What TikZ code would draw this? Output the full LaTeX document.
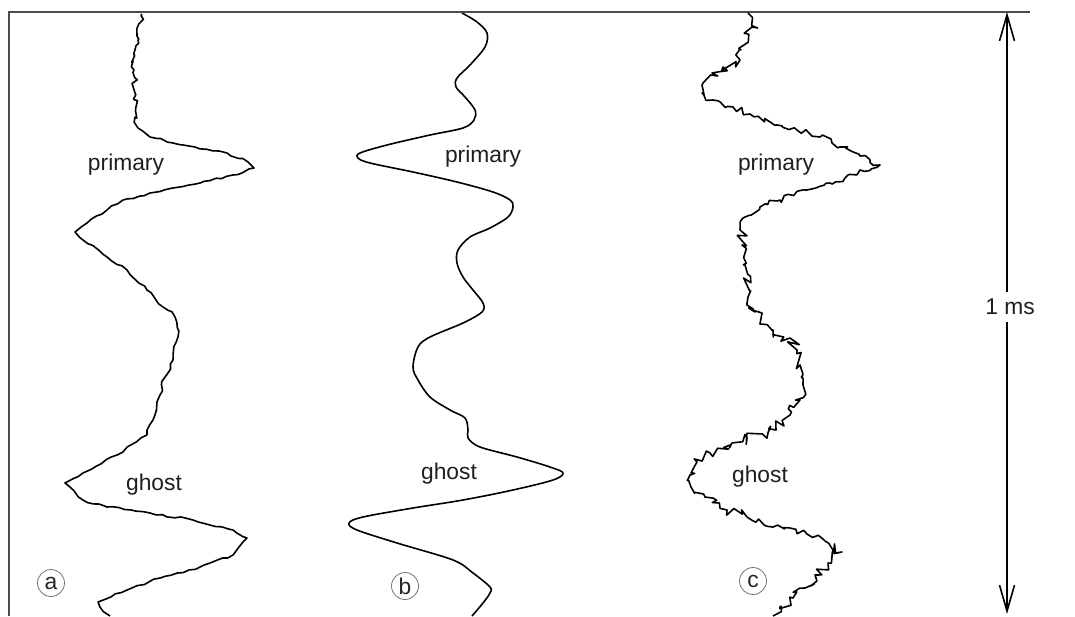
\documentclass[tikz,border=0pt]{standalone}
\usepackage{fontspec}
\setmainfont{Liberation Sans}
\usetikzlibrary{arrows.meta,decorations.pathmorphing}
\begin{document}
\begin{tikzpicture}[x=0.5pt,y=-0.5pt,
  trace/.style={line width=0.8pt, line join=round, black},
  noisy/.style n args={2}{decorate, decoration={random steps, segment length=#1, amplitude=#2}},
  lbl/.style={font=\fontsize{11.4}{13}\selectfont, text=black!88, inner sep=0pt},
  tag/.style={circle, draw=black!55, line width=0.4pt, minimum size=13.5pt, inner sep=0pt, font=\fontsize{11.4}{13}\selectfont, text=black!85},
  frame/.style={draw=black!70, line width=0.6pt},
  scalebar/.style={line width=0.8pt, black, -{Straight Barb[length=13pt,width=7.5pt]}}]
\useasboundingbox (0,0) rectangle (1075,616);
\pgfmathsetseed{4321}
% frame
\draw[frame] (9,616) -- (9,12) -- (1030,12);

% trace (a)
\draw[trace, noisy={2pt}{1.7pt}] (142,14) -- (138,40) -- (134,70) -- (135,100) -- (138,128);
\draw[trace, noisy={3pt}{0.6pt}] (138,128) -- (150,137) -- (183,145) -- (227,153) -- (248,162) -- (254,168) -- (233,175) -- (200,183) -- (150,193) -- (123,200) -- (107,210) -- (87,223) -- (75,232) -- (83,240) -- (107,257) -- (127,270) -- (147,290) -- (163,307);
\draw[trace, noisy={2.5pt}{1.1pt}] (163,307) -- (175,317) -- (178,337) -- (173,360) -- (165,377) -- (160,395) -- (153,420) -- (147,435);
\draw[trace, noisy={3pt}{0.6pt}] (147,435) -- (117,455) -- (83,473) -- (65,483) -- (83,500) -- (107,507) -- (150,513) -- (193,520) -- (233,530) -- (247,538) -- (233,555) -- (200,567) -- (160,578) -- (127,590) -- (98,602) -- (100,607) -- (110,616);

% trace (b)
\draw[trace] plot[smooth, tension=0.55] coordinates {(462,13) (477,22) (487,33) (485,47) (470,65) (457,78) (456,87) (465,97) (475,110) (474,120) (463,128) (430,135) (387,145) (360,153) (358,158) (370,163) (413,172) (457,182) (493,192) (510,200) (513,207) (508,217) (490,228) (470,237) (458,250) (457,263) (463,277) (473,290) (483,303) (482,312) (463,323) (430,337) (418,347) (413,367) (418,380) (430,397) (450,410) (465,418) (468,430) (468,438) (480,447) (517,457) (550,467) (563,473) (553,480) (513,490) (463,500) (413,508) (363,517) (349,523) (357,530) (397,543) (453,560) (473,573) (490,587) (490,593) (483,603) (472,616)};

% trace (c)
\draw[trace, noisy={2pt}{3.2pt}] (748,13) -- (752,27) -- (747,43) -- (740,60) -- (723,67) -- (712,73) -- (703,83) -- (702,93) -- (713,100);
\draw[trace, noisy={2.2pt}{1.6pt}] (713,100) -- (733,107) -- (750,114) -- (777,125) -- (797,130) -- (820,137) -- (840,147) -- (860,156) -- (880,165) -- (860,170) -- (845,178) -- (830,183) -- (807,190) -- (780,200) -- (760,207) -- (745,217) -- (740,230);
\draw[trace, noisy={2pt}{3.4pt}] (740,230) -- (742,245) -- (745,265) -- (746,283) -- (748,297) -- (755,312) -- (773,330) -- (790,338) -- (797,350) -- (800,365) -- (803,385) -- (800,400) -- (790,415) -- (776,430) -- (747,438);
\draw[trace, noisy={2pt}{2.6pt}] (747,438) -- (730,445) -- (710,453) -- (697,462) -- (690,475) -- (691,487) -- (705,497) -- (727,510) -- (747,517);
\draw[trace, noisy={2.2pt}{1.5pt}] (747,517) -- (773,527) -- (807,534) -- (825,541);
\draw[trace, noisy={2pt}{3.2pt}] (825,541) -- (842,552) -- (828,563) -- (815,575) -- (805,588) -- (793,598) -- (780,607) -- (773,616);

% labels
\node[lbl] (pa) at (126,165) {primary};
\node[lbl] (ga) at (154,485) {ghost};
\node[lbl] (pb) at (483,157) {primary};
\node[lbl] (gb) at (449,474) {ghost};
\node[lbl] (pc) at (776,165) {primary};
\node[lbl] (gc) at (760,477) {ghost};
\node[tag] (ta) at (51,583) {a};
\node[tag] (tb) at (405,586) {b};
\node[tag] (tc) at (753,581) {c};

% scale bar
\coordinate (top) at (1007,12);
\coordinate (bot) at (1007,614);
\node[lbl, inner ysep=3.3pt, inner xsep=2pt] (ms) at (1010,307) {1 ms};
\draw[scalebar] (ms.north -| top) -- (top);
\draw[scalebar] (ms.south -| bot) -- (bot);
\end{tikzpicture}
\end{document}
